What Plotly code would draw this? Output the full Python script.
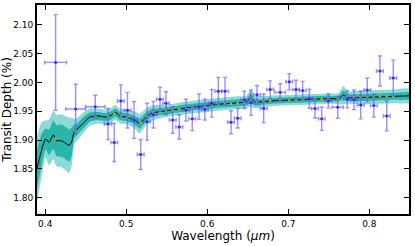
import numpy as np
import plotly.graph_objects as go

# Observed transmission spectrum
wl = [0.4128, 0.4375, 0.4617, 0.4775, 0.4852, 0.4933, 0.5015, 0.5096, 0.5178, 0.5257,
      0.5335, 0.5416, 0.5490, 0.5573, 0.5654, 0.5737, 0.5815, 0.5898, 0.5970, 0.6054,
      0.6136, 0.6219, 0.6293, 0.6375, 0.6457, 0.6540, 0.6614, 0.6696, 0.6776, 0.6900,
      0.7012, 0.7095, 0.7177, 0.7259, 0.7330, 0.7412, 0.7494, 0.7610, 0.7728, 0.7811,
      0.7894, 0.7975, 0.8056, 0.8131, 0.8215, 0.8296]
wl_err = [0.0134, 0.0123, 0.0120, 0.0045, 0.0042, 0.0042, 0.0042, 0.0042, 0.0042, 0.0042,
          0.0042, 0.0042, 0.0042, 0.0042, 0.0042, 0.0042, 0.0042, 0.0042, 0.0042, 0.0042,
          0.0042, 0.0042, 0.0042, 0.0042, 0.0042, 0.0042, 0.0042, 0.0042, 0.0042, 0.0065,
          0.0042, 0.0042, 0.0042, 0.0042, 0.0042, 0.0042, 0.0042, 0.0070, 0.0042, 0.0042,
          0.0042, 0.0042, 0.0042, 0.0042, 0.0042, 0.0042]
depth = [2.035, 1.954, 1.958, 1.928, 1.896, 1.968, 1.952, 1.935, 1.875, 1.932,
         1.944, 1.971, 1.964, 1.935, 1.923, 1.952, 1.937, 1.958, 1.953, 1.964,
         1.985, 1.985, 1.931, 1.938, 1.970, 1.965, 1.979, 1.955, 1.988, 1.983,
         2.0015, 1.988, 1.986, 1.972, 1.955, 1.937, 1.968, 1.957, 1.971, 1.970,
         1.961, 1.987, 1.960, 2.020, 1.942, 2.008]
depth_err = [0.083, 0.043, 0.020, 0.027, 0.033, 0.028, 0.031, 0.032, 0.026, 0.032,
             0.023, 0.021, 0.020, 0.023, 0.021, 0.019, 0.021, 0.022, 0.018, 0.024,
             0.024, 0.024, 0.020, 0.017, 0.015, 0.022, 0.016, 0.025, 0.015, 0.015,
             0.014, 0.016, 0.016, 0.0165, 0.0165, 0.020, 0.012, 0.019, 0.015, 0.017,
             0.024, 0.021, 0.020, 0.026, 0.026, 0.031]
binned_model = [1.903, 1.916, 1.941, 1.941, 1.946, 1.942, 1.940, 1.935, 1.930, 1.941,
                1.948, 1.949, 1.950, 1.952, 1.954, 1.955, 1.957, 1.958, 1.959, 1.960,
                1.961, 1.963, 1.963, 1.964, 1.965, 1.971, 1.966, 1.967, 1.968, 1.969,
                1.969, 1.970, 1.970, 1.971, 1.971, 1.971, 1.972, 1.972, 1.976, 1.974,
                1.974, 1.975, 1.975, 1.976, 1.976, 1.976]

# Retrieved model and credible intervals
model_wl = [0.3898, 0.3955, 0.4005, 0.4046, 0.4100, 0.4140, 0.4200, 0.4297, 0.4326, 0.4358,
            0.4388, 0.4470, 0.4550, 0.4654, 0.4737, 0.4800, 0.4865, 0.4922, 0.5005, 0.5086,
            0.5169, 0.5230, 0.5314, 0.5395, 0.5500, 0.5650, 0.5800, 0.6000, 0.6200, 0.6400,
            0.6480, 0.6535, 0.6590, 0.6700, 0.6900, 0.7100, 0.7300, 0.7500, 0.7620, 0.7680,
            0.7740, 0.7900, 0.8100, 0.8300, 0.8500]
model_depth = [1.850, 1.883, 1.902, 1.896, 1.909, 1.899, 1.899, 1.891, 1.897, 1.915,
               1.918, 1.930, 1.940, 1.942, 1.940, 1.942, 1.948, 1.942, 1.940, 1.936,
               1.929, 1.938, 1.947, 1.949, 1.951, 1.954, 1.957, 1.960, 1.963, 1.965,
               1.966, 1.973, 1.966, 1.967, 1.969, 1.970, 1.971, 1.972, 1.972, 1.978,
               1.974, 1.974, 1.975, 1.976, 1.977]
sig1 = [0.035, 0.028, 0.018, 0.022, 0.025, 0.027, 0.028, 0.028, 0.025, 0.012,
        0.010, 0.010, 0.008, 0.007, 0.007, 0.007, 0.007, 0.007, 0.007, 0.007,
        0.009, 0.008, 0.007, 0.006, 0.006, 0.006, 0.006, 0.006, 0.006, 0.006,
        0.006, 0.008, 0.006, 0.005, 0.005, 0.005, 0.005, 0.005, 0.005, 0.008,
        0.006, 0.006, 0.006, 0.006, 0.006]
sig2 = [0.058, 0.048, 0.032, 0.040, 0.042, 0.045, 0.046, 0.048, 0.042, 0.022,
        0.020, 0.018, 0.015, 0.013, 0.013, 0.013, 0.013, 0.013, 0.013, 0.014,
        0.017, 0.015, 0.013, 0.012, 0.011, 0.011, 0.011, 0.011, 0.011, 0.011,
        0.011, 0.015, 0.011, 0.010, 0.009, 0.009, 0.009, 0.009, 0.010, 0.016,
        0.011, 0.012, 0.012, 0.012, 0.012]

mw = np.array(model_wl)
md = np.array(model_depth)
s1 = np.array(sig1)
s2 = np.array(sig2)

OUTER = "rgb(142,219,213)"
INNER = "rgb(40,181,172)"

fig = go.Figure()

def band(lo, hi, color):
    fig.add_trace(go.Scatter(x=np.concatenate([mw, mw[::-1]]),
                             y=np.concatenate([hi, lo[::-1]]),
                             fill="toself", fillcolor=color, mode="lines",
                             line=dict(width=0, color=color, shape="spline", smoothing=0.6),
                             hoverinfo="skip", showlegend=False))

band(md - s2, md + s2, OUTER)
band(md - s1, md + s1, INNER)

fig.add_trace(go.Scatter(x=model_wl, y=model_depth, mode="lines",
                         line=dict(color="black", width=1, shape="spline", smoothing=0.6),
                         showlegend=False))
fig.add_trace(go.Scatter(x=wl, y=binned_model, mode="markers",
                         marker=dict(color="rgb(235,160,40)", size=2.5),
                         showlegend=False))

fig.add_trace(go.Scatter(
    x=wl, y=depth, mode="markers",
    marker=dict(color="rgba(50,30,255,0.9)", size=3),
    error_x=dict(type="data", array=wl_err, color="rgba(100,80,255,0.65)", thickness=1.4, width=2),
    error_y=dict(type="data", array=depth_err, color="rgba(100,80,255,0.65)", thickness=1.4, width=2),
    showlegend=False))

axis_common = dict(showline=True, linewidth=2, linecolor="black", mirror="ticks",
                   ticks="inside", ticklen=5, tickwidth=1, tickcolor="black",
                   showgrid=False, zeroline=False, automargin=False,
                   tickfont=dict(family="DejaVu Sans", size=9, color="black"))

fig.update_xaxes(range=[0.3898, 0.849], dtick=0.1, tick0=0.4, tickformat=".1f",
                 title=dict(text="Wavelength (<i>μm</i>)", standoff=2,
                            font=dict(family="DejaVu Sans", size=12, color="black")),
                 **axis_common)
fig.update_yaxes(range=[1.7717, 2.1347], dtick=0.05, tick0=1.8, tickformat=".2f",
                 title=dict(text="Transit Depth (%)", standoff=4,
                            font=dict(family="DejaVu Sans", size=12, color="black")),
                 **axis_common)

fig.update_layout(width=415, height=246, margin=dict(l=37, r=6, t=5, b=32),
                  paper_bgcolor="white", plot_bgcolor="white")

fig.write_html("out.html", config={"displayModeBar": False},
               post_script="document.body.style.margin='0';document.body.style.overflow='hidden';")
